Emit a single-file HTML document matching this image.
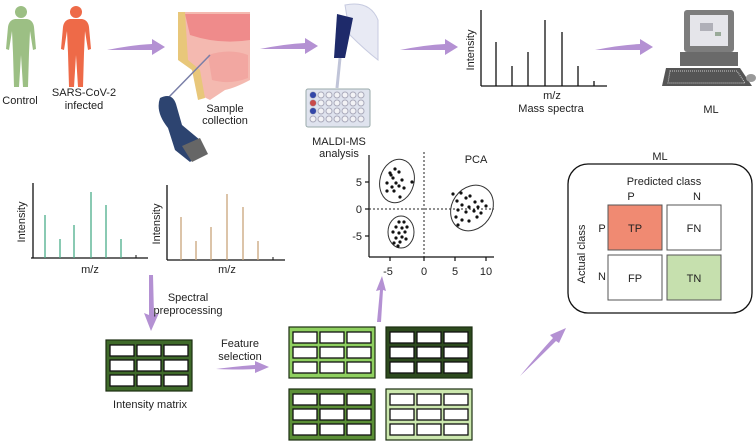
<!DOCTYPE html>
<html><head><meta charset="utf-8"><style>
html,body{margin:0;padding:0;background:#fff;}
svg{display:block;font-family:"Liberation Sans",sans-serif;}
</style></head><body>
<svg width="756" height="441" viewBox="0 0 756 441" xmlns="http://www.w3.org/2000/svg">
<defs>
<g id="arrR"><path d="M0,3 Q25,-2 45,-3 L45,-8 L58,0 L45,8 L45,3 Q25,3 0,3Z" fill="#b491d3"/></g>
<g id="person">
<circle cx="16" cy="7" r="6"/>
<path d="M10,14 H22 Q28,15 29,22 L31,44 L28,45 L25,26 L24,48 L23,82 L18,82 L16,50 L14,82 L9,82 L8,48 L7,26 L4,45 L1,44 L3,22 Q4,15 10,14Z"/>
</g>
<g id="mat">
<rect x="0" y="0" width="86" height="51"/>
<g fill="#fff" stroke="#111" stroke-width="1.3">
<rect x="4" y="5" width="24" height="11"/><rect x="31" y="5" width="24" height="11"/><rect x="58" y="5" width="24" height="11"/>
<rect x="4" y="20" width="24" height="11"/><rect x="31" y="20" width="24" height="11"/><rect x="58" y="20" width="24" height="11"/>
<rect x="4" y="35" width="24" height="11"/><rect x="31" y="35" width="24" height="11"/><rect x="58" y="35" width="24" height="11"/>
</g>
</g>
</defs>

<!-- people -->
<g fill="#9cbf84" transform="translate(5,5)"><use href="#person"/></g>
<g fill="#ee6a48" transform="translate(60,5)"><use href="#person"/></g>
<g font-size="11" fill="#222" text-anchor="middle">
<text x="20" y="104">Control</text>
<text x="84" y="96">SARS-CoV-2</text>
<text x="84" y="109">infected</text>
</g>

<use href="#arrR" transform="translate(107,47)"/>
<!-- nose -->
<g>
<path d="M178,12 L250,12 L250,80 Q235,88 225,90 L210,100 L200,95 L195,70 Q180,60 178,40Z" fill="#f4b9b0"/>
<path d="M185,14 L250,14 L250,40 Q220,45 190,35Z" fill="#ef8b8b"/>
<path d="M178,12 L185,12 L188,60 L200,70 L205,98 L198,100 L192,70 L178,60Z" fill="#e8c77a"/>
<path d="M208,55 Q230,48 248,55 L248,78 Q230,85 212,80Z" fill="#f2a7a1"/>
<line x1="210" y1="55" x2="168" y2="98" stroke="#7a7fa8" stroke-width="1.5"/>
</g>
<path d="M160,98 Q172,92 176,104 L182,125 L200,140 L205,150 L190,162 L175,150 L168,128 Q155,112 160,98Z" fill="#2d4470"/>
<path d="M182,146 L200,138 L208,154 L192,162Z" fill="#666"/>
<g font-size="11" fill="#222" text-anchor="middle">
<text x="225" y="112">Sample</text>
<text x="225" y="124">collection</text>
</g>

<use href="#arrR" transform="translate(260,46)"/>
<!-- pipette + plate -->
<path d="M345,5 Q370,0 378,20 L378,60 Q365,50 350,35Z" fill="#e8eaf4" stroke="#c7cbe0"/>
<path d="M337,14 L353,18 L345,58 L334,58Z" fill="#1e2a6a"/>
<line x1="340" y1="58" x2="337" y2="88" stroke="#c0c4d8" stroke-width="3"/>
<rect x="306" y="89" width="64" height="38" rx="2" fill="#dfe3ee" stroke="#9aa"/>
<g fill="#f2f2f5" stroke="#aab">
<circle cx="313" cy="95" r="3"/><circle cx="321" cy="95" r="3"/><circle cx="329" cy="95" r="3"/><circle cx="337" cy="95" r="3"/><circle cx="345" cy="95" r="3"/><circle cx="353" cy="95" r="3"/><circle cx="361" cy="95" r="3"/>
<circle cx="313" cy="103" r="3"/><circle cx="321" cy="103" r="3"/><circle cx="329" cy="103" r="3"/><circle cx="337" cy="103" r="3"/><circle cx="345" cy="103" r="3"/><circle cx="353" cy="103" r="3"/><circle cx="361" cy="103" r="3"/>
<circle cx="313" cy="111" r="3"/><circle cx="321" cy="111" r="3"/><circle cx="329" cy="111" r="3"/><circle cx="337" cy="111" r="3"/><circle cx="345" cy="111" r="3"/><circle cx="353" cy="111" r="3"/><circle cx="361" cy="111" r="3"/>
<circle cx="313" cy="119" r="3"/><circle cx="321" cy="119" r="3"/><circle cx="329" cy="119" r="3"/><circle cx="337" cy="119" r="3"/><circle cx="345" cy="119" r="3"/><circle cx="353" cy="119" r="3"/><circle cx="361" cy="119" r="3"/>
</g>
<circle cx="313" cy="95" r="3" fill="#3347a8"/><circle cx="313" cy="103" r="3" fill="#c94a4a"/><circle cx="313" cy="111" r="3" fill="#3347a8"/>
<g font-size="11" fill="#222" text-anchor="middle">
<text x="339" y="145">MALDI-MS</text>
<text x="339" y="157">analysis</text>
</g>

<use href="#arrR" transform="translate(400,47)"/>
<!-- mass spectrum -->
<g stroke="#111" stroke-width="1.3">
<line x1="481" y1="10" x2="481" y2="86"/><line x1="481" y1="86" x2="607" y2="86"/>
<line x1="496" y1="86" x2="496" y2="42"/><line x1="512" y1="86" x2="512" y2="66"/><line x1="528" y1="86" x2="528" y2="52"/><line x1="545" y1="86" x2="545" y2="20"/><line x1="562" y1="86" x2="562" y2="32"/><line x1="578" y1="86" x2="578" y2="66"/><line x1="594" y1="86" x2="594" y2="81"/>
</g>
<g font-size="11" fill="#222" text-anchor="middle">
<text x="552" y="99">m/z</text>
<text x="551" y="112">Mass spectra</text>
<text transform="translate(474,50) rotate(-90)">Intensity</text>
</g>

<use href="#arrR" transform="translate(595,47)"/>
<!-- computer -->
<rect x="684" y="10" width="50" height="42" rx="3" fill="#7d7d7d"/>
<rect x="690" y="15" width="38" height="31" fill="#e5e5ea"/>
<rect x="700" y="23" width="13" height="8" fill="#b0b0b8"/><rect x="715" y="32" width="6" height="4" fill="#9a9"/>
<rect x="680" y="52" width="58" height="14" fill="#6a6a6a"/>
<path d="M666,68 L740,68 L752,86 L662,86Z" fill="#555"/>
<path d="M670,71 L737,71 L745,83 L668,83Z" fill="none" stroke="#ccc" stroke-dasharray="1 1"/>
<ellipse cx="751" cy="78" rx="5" ry="4" fill="#999"/>
<text x="711" y="113" font-size="11" text-anchor="middle" fill="#222">ML</text>

<!-- lower spectra -->
<g stroke="#111" stroke-width="1.3">
<line x1="33" y1="183" x2="33" y2="258"/><line x1="31" y1="258" x2="148" y2="258"/>
<line x1="167" y1="185" x2="167" y2="260"/><line x1="167" y1="260" x2="285" y2="260"/>
</g>
<g stroke="#4aae8a" stroke-width="1.3">
<line x1="45" y1="258" x2="45" y2="215"/><line x1="60" y1="258" x2="60" y2="239"/><line x1="74" y1="258" x2="74" y2="225"/><line x1="91" y1="258" x2="91" y2="192"/><line x1="106" y1="258" x2="106" y2="205"/><line x1="121" y1="258" x2="121" y2="239"/>
</g>
<line x1="136" y1="258" x2="136" y2="255" stroke="#111"/>
<g stroke="#c9a57b" stroke-width="1.3">
<line x1="181" y1="260" x2="181" y2="217"/><line x1="196" y1="260" x2="196" y2="241"/><line x1="211" y1="260" x2="211" y2="227"/><line x1="227" y1="260" x2="227" y2="194"/><line x1="243" y1="260" x2="243" y2="207"/><line x1="258" y1="260" x2="258" y2="241"/>
</g>
<line x1="273" y1="260" x2="273" y2="257" stroke="#111"/>
<g font-size="11" fill="#222" text-anchor="middle">
<text x="90" y="273">m/z</text>
<text x="227" y="273">m/z</text>
<text transform="translate(25,222) rotate(-90)">Intensity</text>
<text transform="translate(160,224) rotate(-90)">Intensity</text>
</g>

<!-- down arrow -->
<path d="M149,275 L153,275 L154,315 L159,313 L151,331 L144,313 L149,315Z" fill="#b491d3"/>
<g font-size="11" fill="#222" text-anchor="middle">
<text x="188" y="301">Spectral</text>
<text x="188" y="314">preprocessing</text>
</g>

<!-- intensity matrix -->
<g fill="#3f6a2a" stroke="#1c2e12" stroke-width="1.2" transform="translate(106,340)"><use href="#mat"/></g>
<text x="150" y="408" font-size="11" text-anchor="middle" fill="#222">Intensity matrix</text>

<path d="M216,369 Q240,366 255,365 L255,361 L269,367 L255,373 L255,369 Q240,370 216,369Z" fill="#b491d3"/>
<g font-size="11" fill="#222" text-anchor="middle">
<text x="240" y="347">Feature</text>
<text x="240" y="360">selection</text>
</g>

<g stroke="#1c2e12" stroke-width="1.2">
<g fill="#8fd060" transform="translate(289,327)"><use href="#mat"/></g>
<g fill="#2d4a1e" transform="translate(386,327)"><use href="#mat"/></g>
<g fill="#5b8f36" transform="translate(289,389)"><use href="#mat"/></g>
<g fill="#cce8ae" transform="translate(386,389)"><use href="#mat"/></g>
</g>

<!-- up arrow -->
<path d="M377,322 L380,290 L376,291 L382,276 L386,291 L383,290 L381,322Z" fill="#b491d3"/>

<!-- PCA -->
<g stroke="#111" stroke-width="1.2">
<line x1="369" y1="155" x2="369" y2="257"/><line x1="369" y1="257" x2="494" y2="257"/>
<line x1="365" y1="182" x2="369" y2="182"/><line x1="365" y1="209" x2="369" y2="209"/><line x1="365" y1="236" x2="369" y2="236"/>
<line x1="390" y1="257" x2="390" y2="261"/><line x1="424" y1="257" x2="424" y2="261"/><line x1="455" y1="257" x2="455" y2="261"/><line x1="486" y1="257" x2="486" y2="261"/>
</g>
<g stroke="#222" stroke-width="1" stroke-dasharray="2 2">
<line x1="424" y1="152" x2="424" y2="257"/><line x1="369" y1="209" x2="494" y2="209"/>
</g>
<g font-size="11" fill="#222" text-anchor="end">
<text x="362" y="186">5</text><text x="362" y="213">0</text><text x="362" y="240">-5</text>
</g>
<g font-size="11" fill="#222" text-anchor="middle">
<text x="388" y="275">-5</text><text x="424" y="275">0</text><text x="455" y="275">5</text><text x="486" y="275">10</text>
<text x="476" y="163">PCA</text>
</g>
<g fill="none" stroke="#333" stroke-width="1">
<ellipse cx="397" cy="181" rx="17" ry="22" transform="rotate(15 397 181)"/>
<ellipse cx="401" cy="232" rx="13" ry="16"/>
<ellipse cx="472" cy="208" rx="20" ry="24" transform="rotate(35 472 208)"/>
</g>
<g fill="#111">
<circle cx="395" cy="169" r="1.6"/><circle cx="390" cy="173" r="1.6"/><circle cx="399" cy="172" r="1.6"/><circle cx="393" cy="178" r="1.6"/><circle cx="387" cy="183" r="1.6"/><circle cx="396" cy="183" r="1.6"/><circle cx="402" cy="180" r="1.6"/><circle cx="399" cy="186" r="1.6"/><circle cx="392" cy="187" r="1.6"/><circle cx="387" cy="191" r="1.6"/><circle cx="394" cy="191" r="1.6"/><circle cx="404" cy="188" r="1.6"/><circle cx="400" cy="197" r="1.6"/><circle cx="412" cy="182" r="1.6"/><circle cx="391" cy="175" r="1.6"/>
<circle cx="399" cy="222" r="1.6"/><circle cx="404" cy="222" r="1.6"/><circle cx="396" cy="227" r="1.6"/><circle cx="402" cy="228" r="1.6"/><circle cx="407" cy="227" r="1.6"/><circle cx="393" cy="232" r="1.6"/><circle cx="399" cy="233" r="1.6"/><circle cx="405" cy="232" r="1.6"/><circle cx="396" cy="238" r="1.6"/><circle cx="402" cy="237" r="1.6"/><circle cx="394" cy="243" r="1.6"/><circle cx="400" cy="242" r="1.6"/><circle cx="406" cy="239" r="1.6"/><circle cx="398" cy="246" r="1.6"/>
<circle cx="453" cy="194" r="1.6"/><circle cx="461" cy="193" r="1.6"/><circle cx="466" cy="198" r="1.6"/><circle cx="457" cy="201" r="1.6"/><circle cx="470" cy="196" r="1.6"/><circle cx="475" cy="202" r="1.6"/><circle cx="482" cy="201" r="1.6"/><circle cx="462" cy="205" r="1.6"/><circle cx="469" cy="207" r="1.6"/><circle cx="478" cy="207" r="1.6"/><circle cx="486" cy="206" r="1.6"/><circle cx="458" cy="210" r="1.6"/><circle cx="466" cy="212" r="1.6"/><circle cx="474" cy="211" r="1.6"/><circle cx="481" cy="213" r="1.6"/><circle cx="456" cy="217" r="1.6"/><circle cx="462" cy="220" r="1.6"/><circle cx="469" cy="221" r="1.6"/><circle cx="477" cy="217" r="1.6"/><circle cx="458" cy="225" r="1.6"/>
</g>

<!-- diagonal arrow -->
<path d="M520,376 Q540,352 553,338 L550,335 L566,328 L559,343 L556,341 Q542,355 520,376Z" fill="#b491d3"/>

<!-- ML confusion -->
<text x="660" y="160" font-size="11" text-anchor="middle" fill="#222">ML</text>
<rect x="568" y="164" width="184" height="149" rx="20" fill="#fff" stroke="#111" stroke-width="1.3"/>
<g font-size="11" fill="#222" text-anchor="middle">
<text x="664" y="185">Predicted class</text>
<text x="631" y="200">P</text><text x="697" y="200">N</text>
<text x="602" y="232">P</text><text x="602" y="280">N</text>
<text transform="translate(585,254) rotate(-90)">Actual class</text>
</g>
<g stroke="#555" stroke-width="1">
<rect x="608" y="205" width="54" height="45" fill="#f08a72"/>
<rect x="667" y="205" width="54" height="45" fill="#fff"/>
<rect x="608" y="255" width="54" height="45" fill="#fff"/>
<rect x="667" y="255" width="54" height="45" fill="#c6e0ae"/>
</g>
<g font-size="11" fill="#222" text-anchor="middle">
<text x="635" y="232">TP</text><text x="694" y="232">FN</text>
<text x="635" y="282">FP</text><text x="694" y="282">TN</text>
</g>
</svg>
</body></html>
